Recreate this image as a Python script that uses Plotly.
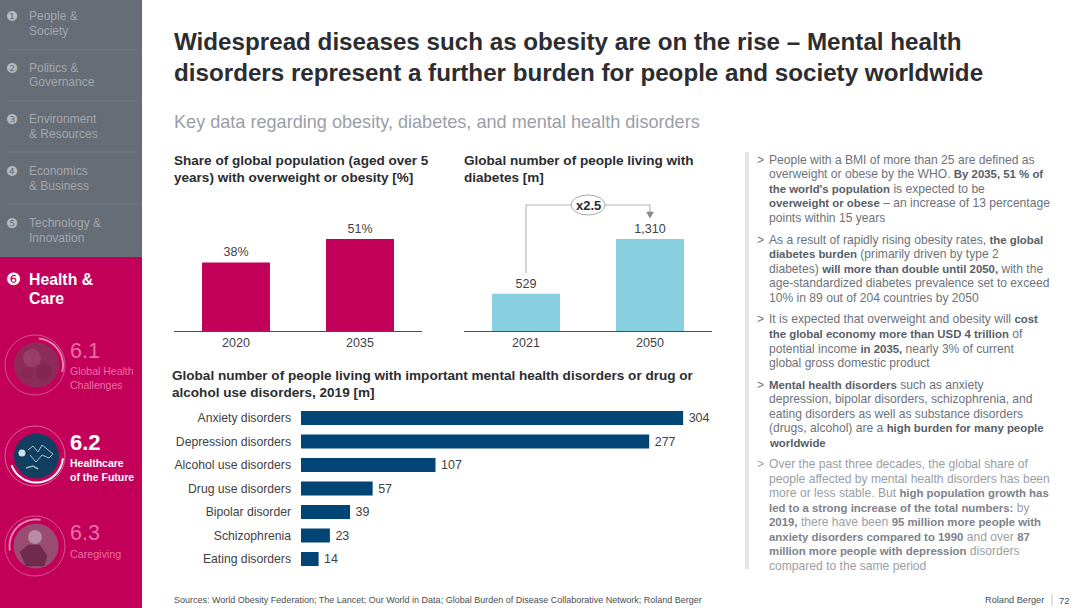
import math
import plotly.graph_objects as go

# ---------- data ----------
obesity_years = ["2020", "2035"]
obesity_share = [38, 51]
obesity_labels = ["38%", "51%"]

diabetes_years = ["2021", "2050"]
diabetes_people = [529, 1310]
diabetes_labels = ["529", "1,310"]

disorder_names = ["Anxiety disorders", "Depression disorders", "Alcohol use disorders",
                  "Drug use disorders", "Bipolar disorder", "Schizophrenia", "Eating disorders"]
disorder_people = [304, 277, 107, 57, 39, 23, 14]

W, H = 1080, 608
FONT = "Liberation Sans"
MAGENTA = "#c2005a"
SLATE = "#666d77"
LIGHTBLUE = "#88cfe0"
NAVY = "#004574"
DARK = "#2b2d30"
LABEL = "#3f4144"

def px(x): return x / W
def py(y): return 1 - y / H

annotations = []
shapes = []

def text(x, y, s, size, color=DARK, anchor="left", font=FONT):
    if anchor == "left":
        x -= 2
    annotations.append(dict(xref="paper", yref="paper", x=px(x), y=py(y), text=s,
                            showarrow=False, xanchor=anchor, yanchor="middle",
                            align=anchor, font=dict(family=font, size=size, color=color)))

def rect(x0, y0, x1, y1, fill):
    shapes.append(dict(type="rect", xref="paper", yref="paper", x0=px(x0), x1=px(x1),
                       y0=py(y0), y1=py(y1), fillcolor=fill, line=dict(width=0), layer="below"))

def hline(x0, x1, y, color, width=1):
    shapes.append(dict(type="line", xref="paper", yref="paper", x0=px(x0), x1=px(x1),
                       y0=py(y), y1=py(y), line=dict(color=color, width=width), layer="below"))

def circle(cx, cy, r, fill=None, line=None, width=1, layer="above"):
    shapes.append(dict(type="circle", xref="paper", yref="paper", x0=px(cx - r), x1=px(cx + r),
                       y0=py(cy - r), y1=py(cy + r), fillcolor=fill or "rgba(0,0,0,0)",
                       line=dict(color=line or "rgba(0,0,0,0)", width=width if line else 0),
                       layer=layer))

def polyline(points, color, width=1, fill=None):
    d = "M " + " L ".join(f"{px(a):.5f},{py(b):.5f}" for a, b in points)
    if fill:
        d += " Z"
    shapes.append(dict(type="path", xref="paper", yref="paper", path=d,
                       fillcolor=fill or "rgba(0,0,0,0)",
                       line=dict(color=color, width=width)))

def arc(cx, cy, r, a0, a1, color, width):
    n = 40
    pts = [(cx + r * math.cos(math.radians(a0 + (a1 - a0) * i / n)),
            cy - r * math.sin(math.radians(a0 + (a1 - a0) * i / n))) for i in range(n + 1)]
    polyline(pts, color, width)

# ---------- sidebar ----------
rect(0, 0, 142, 257, SLATE)
rect(0, 257, 142, 608, MAGENTA)
for y in (50, 101, 152, 204):
    hline(8, 138, y, "#767c86", 0.7)
nav = [("\u2776", "People &", "Society", 16), ("\u2777", "Politics &", "Governance", 67.5),
       ("\u2778", "Environment", "& Resources", 119), ("\u2779", "Economics", "& Business", 171),
       ("\u277a", "Technology &", "Innovation", 223)]
NAVTXT = "#a3a7ad"
for g, a, b_, y in nav:
    text(6, y, g, 13.5, "#b6b9be", font="DejaVu Sans")
    text(29, y, a, 12, NAVTXT)
    text(29, y + 15, b_, 12, NAVTXT)
text(6, 279, "\u277b", 17, "#ffffff", font="DejaVu Sans")
text(29, 279.5, "<b>Health &</b>", 15.8, "#ffffff")
text(29, 298.5, "<b>Care</b>", 15.8, "#ffffff")

PINK = "#ea6ea3"
text(69.5, 350.5, "6.1", 21.5, PINK)
text(69.5, 371, "Global Health", 10.5, PINK)
text(69.5, 385, "Challenges", 10.5, PINK)
text(69.5, 443, "<b>6.2</b>", 22, "#ffffff")
text(69.5, 462.5, "<b>Healthcare</b>", 10.5, "#ffffff")
text(69.5, 476.5, "<b>of the Future</b>", 10.5, "#ffffff")
text(69.5, 533, "6.3", 21.5, PINK)
text(69.5, 554, "Caregiving", 10.7, PINK)

# thumbnails (photo placeholders)
circle(36.5, 365, 22.5, fill="#8e2c59")
circle(32, 358, 9, fill="#9a3d69")
circle(44, 372, 8, fill="#832651")
circle(27, 373, 6, fill="#862852")
arc(35, 365, 30, 0, 360, "#e58bb0", 0.6)
arc(36.5, 365, 26.5, 85, -15, "#ef8cb4", 1.8)

circle(36.5, 456, 22.5, fill="#123f60")
circle(22, 453, 3.5, fill="#cfe2ea")
polyline([(28, 450), (33, 446), (38, 452), (42, 445), (47, 449), (53, 454), (49, 458), (42, 455), (36, 462), (30, 455)],
         "#9fc4d4", 1)
polyline([(26, 468), (33, 466), (38, 469)], "#8fb6c6", 1.5)
arc(35, 456, 30, 0, 360, "#f0a3c2", 0.6)
arc(36.5, 456, 26.5, 200, 355, "#ffffff", 2)

circle(36, 546, 22.5, fill="#9a4c72")
circle(35, 537, 7, fill="#b98aa2")
polyline([(20, 552), (28, 545), (40, 545), (47, 556), (44, 566), (26, 566)], "#6f2b4e", 0.5, fill="#6f2b4e")
arc(35, 546, 30, 0, 360, "#e58bb0", 0.6)
arc(36, 546, 26.5, 80, 190, "#ef8cb4", 1.8)

# ---------- headline ----------
text(174, 42, "<b>Widespread diseases such as obesity are on the rise \u2013 Mental health</b>", 24.2, DARK)
text(174, 72, "<b>disorders represent a further burden for people and society worldwide</b>", 24.2, DARK)
text(174, 121.5, "Key data regarding obesity, diabetes, and mental health disorders", 18.1, "#9a9ea6")

text(174, 160.5, "<b>Share of global population (aged over 5</b>", 13.55, DARK)
text(174, 177.5, "<b>years) with overweight or obesity [%]</b>", 13.55, DARK)
text(464, 160.5, "<b>Global number of people living with</b>", 13.55, DARK)
text(464, 177.5, "<b>diabetes [m]</b>", 13.55, DARK)
text(172, 375, "<b>Global number of people living with important mental health disorders or drug or</b>", 13.55, DARK)
text(172, 392, "<b>alcohol use disorders, 2019 [m]</b>", 13.55, DARK)

# ---------- connector x2.5 ----------
CONN = "#b4b7bb"
polyline([(526, 273), (526, 205), (650, 205), (650, 212)], CONN, 1.2)
polyline([(646.5, 212), (653.5, 212), (650, 218)], "#858a91", 0.5, fill="#858a91")
shapes.append(dict(type="circle", xref="paper", yref="paper", x0=px(571), x1=px(605),
                   y0=py(195), y1=py(215), fillcolor="#ffffff", line=dict(color="#8f9398", width=0.8)))
text(588, 205, "<b>x2.5</b>", 13, DARK, anchor="center")

# ---------- right column ----------
rect(745, 152, 749, 569, "#e5e6e8")
G = "#6d727a"      # regular paragraph text
GB = "#585e67"     # bold paragraph text
LG = "#9a9ea5"
LGB = "#7d828a"

def b(s, c=GB): return f'<b><span style="color:{c};font-size:11.4px">{s}</span></b>'

body = [
    (159.5, True, G, "People with a BMI of more than 25 are defined as"),
    (174.5, False, G, "overweight or obese by the WHO. " + b("By 2035, 51 % of")),
    (189, False, G, b("the world's population") + " is expected to be"),
    (203.5, False, G, b("overweight or obese") + " \u2013 an increase of 13 percentage"),
    (218, False, G, "points within 15 years"),
    (239.5, True, G, "As a result of rapidly rising obesity rates, " + b("the global")),
    (254, False, G, b("diabetes burden") + " (primarily driven by type 2"),
    (268.5, False, G, "diabetes) " + b("will more than double until 2050,") + " with the"),
    (283.5, False, G, "age-standardized diabetes prevalence set to exceed"),
    (298, False, G, "10% in 89 out of 204 countries by 2050"),
    (319, True, G, "It is expected that overweight and obesity will " + b("cost")),
    (334, False, G, b("the global economy more than USD 4 trillion") + " of"),
    (348.5, False, G, "potential income " + b("in 2035,") + " nearly 3% of current"),
    (363, False, G, "global gross domestic product"),
    (384.5, True, G, b("Mental health disorders") + " such as anxiety"),
    (399, False, G, "depression, bipolar disorders, schizophrenia, and"),
    (413.5, False, G, "eating disorders as well as substance disorders"),
    (428, False, G, "(drugs, alcohol) are a " + b("high burden for many people")),
    (442.5, False, G, b("worldwide")),
    (464, True, LG, "Over the past three decades, the global share of"),
    (478.5, False, LG, "people affected by mental health disorders has been"),
    (493, False, LG, "more or less stable. But " + b("high population growth has", LGB)),
    (507.5, False, LG, b("led to a strong increase of the total numbers:", LGB) + " by"),
    (522, False, LG, b("2019,", LGB) + " there have been " + b("95 million more people with", LGB)),
    (536.5, False, LG, b("anxiety disorders compared to 1990", LGB) + " and over " + b("87", LGB)),
    (551, False, LG, b("million more people with depression", LGB) + " disorders"),
    (565.5, False, LG, "compared to the same period"),
]
for y, bullet, col, line in body:
    if bullet:
        text(757, y, "&gt;", 12, col)
    text(768.5, y, line, 12.1, col)

# ---------- footer ----------
text(174, 600, "Sources: World Obesity Federation; The Lancet; Our World in Data; Global Burden of Disease Collaborative Network; Roland Berger",
     9, "#4a4d52")
text(985, 600, "Roland Berger", 9.2, "#4a4d52")
shapes.append(dict(type="line", xref="paper", yref="paper", x0=px(1052), x1=px(1052),
                   y0=py(594), y1=py(606), line=dict(color="#b5b8bc", width=0.8)))
text(1059, 600, "72", 9.5, "#4a4d52")

# ---------- charts ----------
fig = go.Figure()
tick = dict(family=FONT, size=12.5, color=LABEL)
lab = dict(family=FONT, size=12.5, color=LABEL)

fig.add_trace(go.Bar(x=obesity_years, y=obesity_share, text=obesity_labels, textposition="outside",
                     marker=dict(color=MAGENTA, line=dict(width=0)), width=0.548,
                     textfont=lab, cliponaxis=False, xaxis="x", yaxis="y"))
fig.add_trace(go.Bar(x=diabetes_years, y=diabetes_people, text=diabetes_labels, textposition="outside",
                     marker=dict(color=LIGHTBLUE, line=dict(width=0)), width=0.548,
                     textfont=lab, cliponaxis=False, xaxis="x2", yaxis="y2"))
fig.add_trace(go.Bar(y=disorder_names, x=disorder_people, orientation="h",
                     text=["\u2009" + str(v) for v in disorder_people], textposition="outside",
                     marker=dict(color=NAVY, line=dict(width=0)), width=0.6,
                     textfont=lab, cliponaxis=False, xaxis="x3", yaxis="y3"))

AXLINE = "#4b4d50"
def cat_x(x0, x1, anchor):
    return dict(domain=[px(x0), px(x1)], type="category", range=[-0.5, 1.5], anchor=anchor,
                showline=True, linecolor=AXLINE, linewidth=1, ticks="", showgrid=False,
                zeroline=False, tickfont=tick, fixedrange=True)

def val_y(top, bottom, vmax, anchor):
    return dict(domain=[py(bottom), py(top)], range=[0, vmax], anchor=anchor, visible=False,
                showgrid=False, zeroline=False, fixedrange=True)

fig.update_layout(
    width=W, height=H, margin=dict(l=0, r=0, t=0, b=0), autosize=False,
    paper_bgcolor="#ffffff", plot_bgcolor="rgba(0,0,0,0)", showlegend=False,
    font=dict(family=FONT), uniformtext=dict(mode=False),
    xaxis=cat_x(174, 422, "y"),
    yaxis=val_y(200, 331, 131 / 1.804, "x"),
    xaxis2=cat_x(464, 712, "y2"),
    yaxis2=val_y(200, 331, 131 / 0.0702, "x2"),
    xaxis3=dict(domain=[px(301), px(700)], range=[0, 399 / 1.257], anchor="y3", visible=False,
                showgrid=False, zeroline=False, fixedrange=True),
    yaxis3=dict(domain=[py(570.75), py(406.25)], type="category", autorange="reversed", anchor="x3",
                showline=False, ticks="", showgrid=False, zeroline=False,
                tickfont=dict(family=FONT, size=12.2, color=LABEL),
                ticklabelstandoff=9, fixedrange=True),
    annotations=annotations, shapes=shapes, hovermode=False,
)

fig.write_html("out.html", config=dict(displayModeBar=False),
               post_script="document.body.style.margin='0';document.body.style.overflow='hidden';")
